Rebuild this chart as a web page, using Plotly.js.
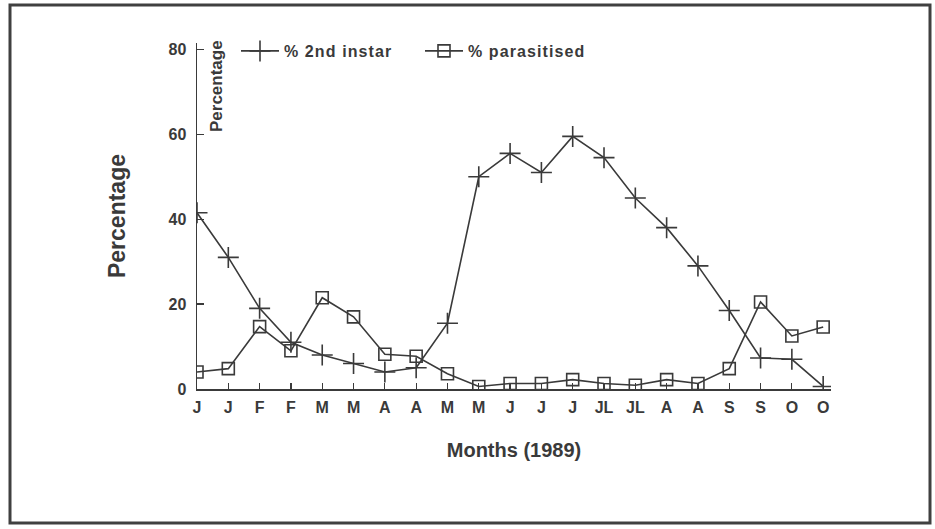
<!DOCTYPE html>
<html>
<head>
<meta charset="utf-8">
<script src="https://cdn.plot.ly/plotly-3.0.1.min.js"></script>
<style>html,body{margin:0;padding:0;background:#fff;}#chart{width:935px;height:529px;}
#chart .legendtext{letter-spacing:1.1px;}</style>
</head>
<body>
<div id="chart"></div>
<script>
// Category labels (sample dates in 1989, two per month)
const monthLabels = ["J","J","F","F","M","M","A","A","M","M","J","J","J","JL","JL","A","A","S","S","O","O"];
const secondInstar = [41.5,31,19,11,8,6,4,5,15.5,50,55.5,51,59.5,54.5,45,38,29,18.5,7.3,7,0.6];
const parasitised  = [4,4.8,14.7,9,21.5,17,8.2,7.7,3.6,0.6,1.3,1.3,2.2,1.3,0.9,2.2,1.3,4.8,20.5,12.5,14.6];
const yTicks = [0,20,40,60,80];

const xIdx = monthLabels.map((_, i) => i);
const ink = '#3a3a3a';
const fontFam = 'Liberation Sans, Arial, Helvetica, sans-serif';

// plot-area geometry in pixels
const L = 197, R = 104, T = 43, B = 140, W = 935, H = 529;
const pw = W - L - R, ph = H - T - B;
const px = v => (v - L) / pw;
const py = v => (H - B - v) / ph;

const traces = [
  {
    x: xIdx, y: secondInstar, name: '% 2nd instar', type: 'scatter', mode: 'lines+markers',
    line: {color: ink, width: 1.6},
    marker: {symbol: 'cross-thin-open', size: 15, color: ink, line: {color: ink, width: 1.6}}
  },
  {
    x: xIdx, y: parasitised, name: '% parasitised', type: 'scatter', mode: 'lines+markers',
    line: {color: ink, width: 1.6},
    marker: {symbol: 'square-open', size: 12, color: ink, line: {color: ink, width: 1.6}}
  }
];

const layout = {
  width: W, height: H,
  margin: {l: L, r: R, t: T, b: B, pad: 0},
  paper_bgcolor: '#fff', plot_bgcolor: '#fff',
  font: {family: fontFam, color: ink, size: 16, weight: 700},
  showlegend: true,
  legend: {
    orientation: 'h', x: px(236), xanchor: 'left', y: py(51), yanchor: 'middle',
    bgcolor: 'rgba(0,0,0,0)', font: {size: 16, weight: 700, color: ink},
    itemwidth: 38, entrywidth: 131, traceorder: 'normal'
  },
  xaxis: {
    range: [0, 20.25], tickmode: 'array', tickvals: xIdx, ticktext: monthLabels,
    showgrid: false, zeroline: false, showline: true, linecolor: ink, linewidth: 1.5,
    ticks: 'inside', ticklen: 6, tickcolor: ink, tickwidth: 1.2,
    ticklabelstandoff: 3,
    tickfont: {size: 16, weight: 700, color: ink},
    title: {text: 'Months (1989)', font: {size: 20, weight: 700, color: ink}, standoff: 28},
    fixedrange: true
  },
  yaxis: {
    range: [0, 81.5], tickmode: 'array', tickvals: yTicks,
    showgrid: false, zeroline: false, showline: true, linecolor: ink, linewidth: 1.5,
    ticks: 'inside', ticklen: 7, tickcolor: ink, tickwidth: 1.2,
    ticklabelstandoff: 6,
    tickfont: {size: 16, weight: 700, color: ink},
    title: {text: 'Percentage', font: {size: 23, weight: 700, color: ink}, standoff: 36},
    fixedrange: true
  },
  annotations: [
    {
      text: 'Percentage', xref: 'paper', yref: 'paper', x: px(216), y: py(86),
      xanchor: 'center', yanchor: 'middle', textangle: -90, showarrow: false,
      font: {size: 17, weight: 700, color: ink}
    }
  ],
  shapes: [
    {
      type: 'rect', xref: 'paper', yref: 'paper', layer: 'above',
      x0: px(10), x1: px(930), y0: py(523), y1: py(5),
      line: {color: '#404040', width: 3}, fillcolor: 'rgba(0,0,0,0)'
    }
  ]
};

Plotly.newPlot('chart', traces, layout, {displayModeBar: false, staticPlot: true});
</script>
</body>
</html>
